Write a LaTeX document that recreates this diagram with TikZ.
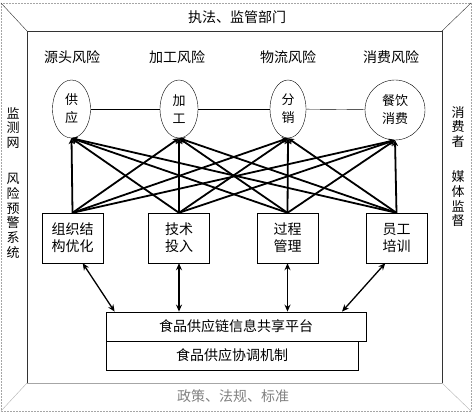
\documentclass[tikz,border=0pt]{standalone}
\usepackage{fontspec}
\newfontfamily\cjk{Noto Sans CJK SC}
\usetikzlibrary{shapes.geometric,arrows.meta}

\begin{document}
\begin{tikzpicture}[x=1pt,y=-1pt,
        every node/.style={font=\cjk\fontsize{14}{16}\selectfont},
        stage/.style={ellipse, draw, minimum width=38pt, minimum height=58pt, inner sep=0pt, align=center, font=\cjk\fontsize{13}{18}\selectfont},
        measure/.style={rectangle, draw, minimum width=61pt, minimum height=50pt, inner sep=0pt, align=center, font=\cjk\fontsize{14}{17}\selectfont},
        platform/.style={rectangle, draw, minimum height=29pt, inner sep=0pt, line width=0.8pt},
        side/.style={align=center, font=\cjk\fontsize{13}{14.7}\selectfont},
        link/.style={line width=1.8pt, -{Stealth[length=6pt,width=6pt]}},
        both/.style={line width=1.3pt, {Stealth[length=7pt,width=6pt]}-{Stealth[length=7pt,width=6pt]}}]
        \useasboundingbox (0,0) rectangle (473,414);

        % frame
        \draw[gray!70, dashed, dash pattern=on 2pt off 1pt] (1,3) rectangle (471,411);
        \draw[black!80, line width=0.9pt] (27,383) -- (27,31) -- (442,31) -- (442,383);
        \draw[gray!70] (27,383) -- (442,383);
        \draw[black!80] (1,3) -- (27,31);
        \draw[black!80] (471,3) -- (442,31);
        \draw[gray!60] (1,411) -- (27,383);
        \draw[gray!60] (471,411) -- (442,383);

        \node (top) at (237,17) {执法、监管部门};
        \node[text=gray] (bottom) at (233,396) {政策、法规、标准};
        \node[side] (l1) at (13,128) {监\\测\\网};
        \node[side] (l2) at (13,216) {风\\险\\预\\警\\系\\统};
        \node[side] (r1) at (458,127) {消\\费\\者};
        \node[side] (r2) at (458,199) {媒\\体\\监\\督};

        \node (k1) at (72,57) {源头风险};
        \node (k2) at (177,57) {加工风险};
        \node (k3) at (288,57) {物流风险};
        \node (k4) at (391,57) {消费风险};

        \node[stage] (s1) at (71.5,109) {供\\应};
        \node[stage] (s2) at (179,109) {加\\工};
        \node[stage, minimum width=36pt] (s3) at (288,109) {分\\销};
        \node[circle, draw, minimum size=60pt, inner sep=0pt, align=center, font=\cjk\fontsize{13}{18}\selectfont] (s4) at (395,110) {餐饮\\消费};

        \draw (s1) -- (s2);
        \draw (s2) -- (s3);
        \draw (s3) -- (s4);

        \node[measure] (c1) at (72.5,238) {组织结\\构优化};
        \node[measure] (c2) at (179,238) {技术\\投入};
        \node[measure] (c3) at (287.5,238) {过程\\管理};
        \node[measure] (c4) at (396.5,238) {员工\\培训};

        \draw[link] (c1.north) -- (s1.south);
        \draw[link] (c1.north) -- (s2.south);
        \draw[link] (c1.north) -- (s3.south);
        \draw[link] (c1.north) -- (s4.south);
        \draw[link] (c2.north) -- (s1.south);
        \draw[link] (c2.north) -- (s2.south);
        \draw[link] (c2.north) -- (s3.south);
        \draw[link] (c2.north) -- (s4.south);
        \draw[link] (c3.north) -- (s1.south);
        \draw[link] (c3.north) -- (s2.south);
        \draw[link] (c3.north) -- (s3.south);
        \draw[link] (c3.north) -- (s4.south);
        \draw[link] (c4.north) -- (s1.south);
        \draw[link] (c4.north) -- (s2.south);
        \draw[link] (c4.north) -- (s3.south);
        \draw[link] (c4.north) -- (s4.south);

        \node[platform, minimum width=260pt] (p1) at (236,326.5) {食品供应链信息共享平台};
        \node[platform, minimum width=252pt] (p2) at (232,355.5) {食品供应协调机制};

        \draw[both] (c1.-68) -- (p1.173);
        \draw[both] (c2.south) -- (c2.south |- p1.north);
        \draw[both] (c3.south) -- (c3.south |- p1.north);
        \draw[both] (c4.-114) -- (p1.8);

    \end{tikzpicture}
\end{document}
